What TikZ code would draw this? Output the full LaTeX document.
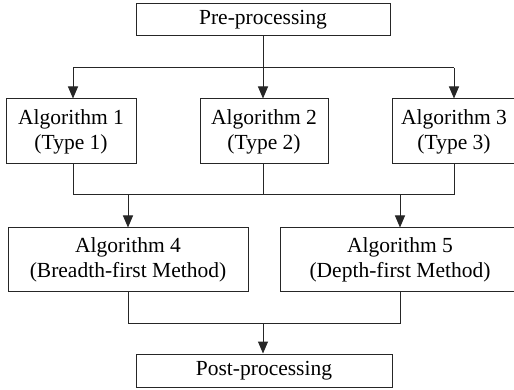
\documentclass[tikz,border=0pt]{standalone}
\usepackage{fontspec}
\setmainfont{Liberation Serif}
\usetikzlibrary{arrows.meta}
\begin{document}
\begin{tikzpicture}[x=1pt,y=-1pt,
  box/.style={draw=black!85, line width=1pt, align=center, inner sep=0pt,
    font=\fontsize{21.5}{25}\selectfont},
  conn/.style={draw=black!85, line width=1pt},
  arr/.style={conn, -{Triangle[length=12pt,width=10pt]}}]
\useasboundingbox (0,0) rectangle (514,390);
\clip (0,0) rectangle (514,390);
\fill[white] (0,0) rectangle (514,390);
\node[box, minimum width=254pt, minimum height=32pt] (pre) at (263,20) {Pre-processing};
\node[box, minimum width=130pt, minimum height=65pt] (a1) at (71,131.5) {Algorithm 1\\(Type 1)};
\node[box, minimum width=128pt, minimum height=65pt] (a2) at (264,131.5) {Algorithm 2\\(Type 2)};
\node[box, minimum width=124pt, minimum height=65pt] (a3) at (454,131.5) {Algorithm 3\\(Type 3)};
\node[box, minimum width=240pt, minimum height=63pt] (a4) at (128,259.5) {Algorithm 4\\(Breadth-first Method)};
\node[box, minimum width=240pt, minimum height=63pt] (a5) at (400,259.5) {Algorithm 5\\(Depth-first Method)};
\node[box, minimum width=256pt, minimum height=33pt] (post) at (264,370.5) {Post-processing};
\coordinate (s1) at (73,68);
\coordinate (s2) at (263,68);
\coordinate (s3) at (454,68);
\coordinate (m1) at (73,195);
\coordinate (m2) at (263,195);
\coordinate (m3) at (454,195);
\coordinate (b4) at (128,323);
\coordinate (b0) at (263,323);
\coordinate (b5) at (400,323);
% split from pre-processing
\draw[conn] (pre.south) -- (s2);
\draw[conn] (s1) -- (s3);
\draw[arr] (s1) -- (s1 |- a1.north);
\draw[arr] (s2) -- (s2 |- a2.north);
\draw[arr] (s3) -- (s3 |- a3.north);
% merge of algorithms 1-3
\draw[conn] (a1.south -| m1) -- (m1) -- (m3) -- (a3.south -| m3);
\draw[conn] (a2.south -| m2) -- (m2);
\draw[arr] (m1 -| a4.north) -- (a4.north);
\draw[arr] (m1 -| a5.north) -- (a5.north);
% merge of algorithms 4-5
\draw[conn] (a4.south) -- (b4) -- (b5) -- (a5.south);
\draw[arr] (b0) -- (b0 |- post.north);
\end{tikzpicture}
\end{document}
